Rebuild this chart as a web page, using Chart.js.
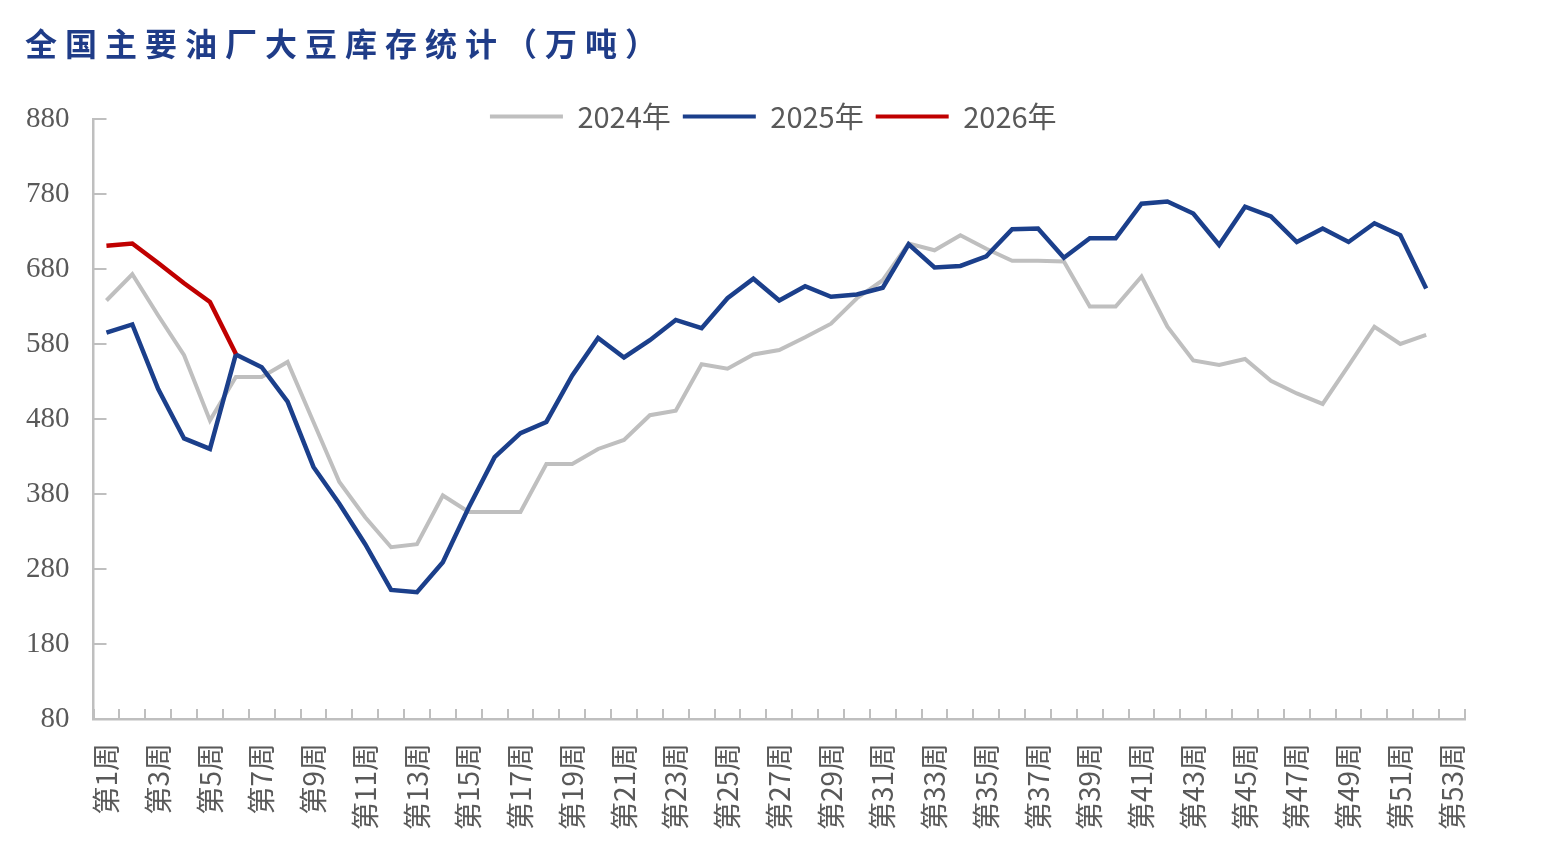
<!DOCTYPE html>
<html>
<head>
<meta charset="utf-8">
<script src="https://cdn.jsdelivr.net/npm/chart.js@4.4.1/dist/chart.umd.min.js"></script>
<style>
    body { margin: 0; background: #ffffff; }
    #wrap { position: relative; width: 1542px; height: 862px; }
    #title {
        position: absolute; left: 25px; top: 19px;
        font-family: "Noto Sans CJK SC", sans-serif; font-weight: bold;
        font-size: 32px; letter-spacing: 8px; color: #1F3C88;
    }
</style>
</head>
<body>
<div id="wrap">
    <div id="title">全国主要油厂大豆库存统计（万吨）</div>
    <canvas id="stockChart" width="1542" height="862"></canvas>
</div>
<script>
// weekly labels 第1周 ... 第53周
const weeks = [];
for (let i = 1; i <= 53; i++) weeks.push('第' + i + '周');

// values (万吨)
const y2024 = [638, 673, 618, 565, 478, 536, 536, 556, 476, 396,
               349, 309, 313, 378, 356, 356, 356, 420, 420, 440,
               452, 485, 491, 553, 547, 566, 572, 589, 607, 641,
               665, 714, 705, 725, 707, 691, 691, 690, 630, 630,
               670, 603, 558, 552, 560, 531, 514, 500, 551, 603,
               580, 592, null];
const y2025 = [595, 606, 520, 454, 440, 566, 549, 503, 416, 367,
               313, 252, 249, 289, 362, 429, 461, 476, 538, 588,
               562, 585, 612, 601, 641, 667, 638, 657, 643, 646,
               655, 713, 682, 684, 697, 733, 734, 695, 721, 721,
               767, 770, 754, 712, 763, 750, 716, 734, 716, 741,
               725, 654, null];
const y2026 = [711, 714, 688, 661, 636, 567];

const seriesNames = ['2024年', '2025年', '2026年'];
const seriesColors = ['#BFBFBF', '#1B3F8B', '#C00000'];

// y axis range
const yMin = 80, yMax = 880, yStep = 100;

// small tick marks pointing into the plot, like the original
const innerTicks = {
    id: 'innerTicks',
    beforeDatasetsDraw(chart) {
        const { ctx, chartArea, scales: { x, y } } = chart;
        ctx.save();
        ctx.strokeStyle = '#BFBFBF';
        ctx.lineWidth = 2;
        ctx.beginPath();
        y.ticks.forEach((t, i) => {
            const py = Math.round(y.getPixelForTick(i));
            ctx.moveTo(chartArea.left, py);
            ctx.lineTo(chartArea.left + 13, py);
        });
        for (let i = 0; i <= weeks.length; i++) {
            const px = Math.round(x.getPixelForValue(i - 0.5));
            ctx.moveTo(px, chartArea.bottom);
            ctx.lineTo(px, chartArea.bottom - 10);
        }
        ctx.stroke();
        ctx.restore();
    }
};

// the legend overlaps the top of the plot in the original:
// keep its layout slot small, then widen the clip box and re-centre it
const legendShift = {
    id: 'legendShift',
    afterLayout(chart) {
        const lg = chart.legend;
        if (!lg) return;
        const dx = (chart.chartArea.left + chart.chartArea.right) / 2 - (lg.left + lg.right) / 2 - 6;
        lg.left += dx; lg.right += dx;
        lg.bottom += 30; lg.height += 30;
    }
};

const ctx = document.getElementById('stockChart').getContext('2d');
const chart = new Chart(ctx, {
    type: 'line',
    data: {
        labels: weeks,
        datasets: [
            { label: seriesNames[0], data: y2024, borderColor: seriesColors[0], backgroundColor: seriesColors[0], borderWidth: 4, order: 2 },
            { label: seriesNames[1], data: y2025, borderColor: seriesColors[1], backgroundColor: seriesColors[1], borderWidth: 4.5, order: 1 },
            { label: seriesNames[2], data: y2026, borderColor: seriesColors[2], backgroundColor: seriesColors[2], borderWidth: 4.5, order: 0 }
        ]
    },
    options: {
        responsive: false,
        animation: false,
        elements: { point: { radius: 0 }, line: { tension: 0 } },
        layout: { padding: { top: 90, left: 2, right: 77, bottom: 8 } },
        scales: {
            x: {
                offset: true,
                grid: { offset: true, drawOnChartArea: false, drawTicks: false },
                border: { color: '#BFBFBF', width: 2.5 },
                ticks: {
                    autoSkip: false, maxRotation: 90, minRotation: 90, padding: 24,
                    color: '#595959',
                    font: { family: '"Noto Sans CJK SC", sans-serif', size: 28 },
                    callback: function(value, index) {
                        return index % 2 === 0 ? this.getLabelForValue(value) : '';
                    }
                }
            },
            y: {
                min: yMin, max: yMax,
                grid: { drawOnChartArea: false, drawTicks: false },
                border: { color: '#BFBFBF', width: 2.5 },
                ticks: {
                    stepSize: yStep, padding: 24, color: '#595959',
                    font: { family: '"Liberation Serif", serif', size: 29 }
                }
            }
        },
        plugins: {
            title: { display: false },
            tooltip: { enabled: false },
            legend: {
                position: 'top',
                maxHeight: 29,
                labels: {
                    boxWidth: 73, boxHeight: 4, padding: 12,
                    color: '#595959',
                    font: { family: '"Noto Sans CJK SC", sans-serif', size: 29 },
                    sort: (a, b) => a.datasetIndex - b.datasetIndex,
                    generateLabels: c => Chart.defaults.plugins.legend.labels.generateLabels(c)
                        .map(l => Object.assign(l, { lineWidth: 0 }))
                }
            }
        }
    },
    plugins: [innerTicks, legendShift]
});
</script>
</body>
</html>
